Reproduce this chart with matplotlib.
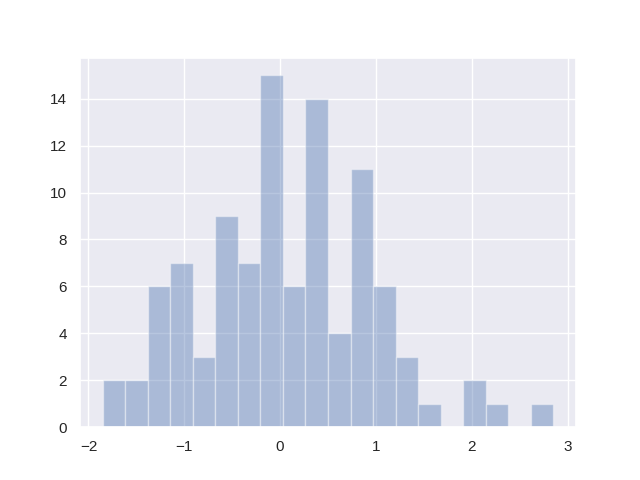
import numpy as np
import matplotlib
matplotlib.use("Agg")
import matplotlib.pyplot as plt
import seaborn as sns

sns.set()
plt.rcParams['font.family'] = ['Liberation Sans', 'DejaVu Sans']

# histogram: 20 bins
left_edge = -1.853
right_edge = 2.853
counts = [2, 2, 6, 7, 3, 9, 7, 15, 6, 14, 4, 11, 6, 3, 1, 0, 2, 1, 0, 1]

edges = np.linspace(left_edge, right_edge, len(counts) + 1)
centers = (edges[:-1] + edges[1:]) / 2

fig, ax = plt.subplots(figsize=(6.4, 4.8), dpi=100)
ax.hist(centers, bins=edges, weights=counts, color="#4C72B0", alpha=0.4)
fig.savefig("out.png")
